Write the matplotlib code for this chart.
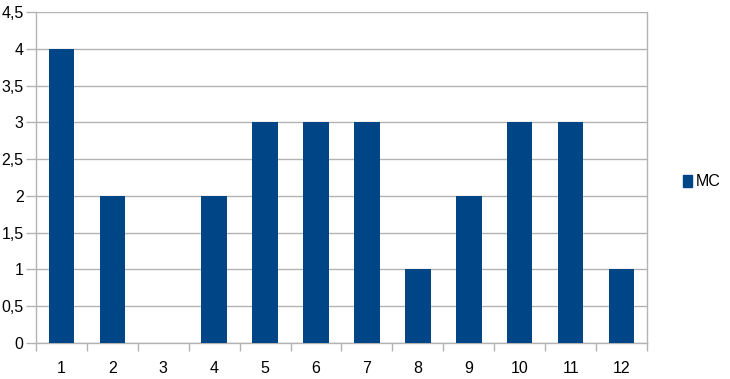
import matplotlib.pyplot as plt
from matplotlib.ticker import FuncFormatter, MultipleLocator
from matplotlib.patches import Patch

# 数据
categories = ['1', '2', '3', '4', '5', '6', '7', '8', '9', '10', '11', '12']
mc_values = [4, 2, 0, 2, 3, 3, 3, 1, 2, 3, 3, 1]

bar_color = '#004586'
grid_color = '#b3b3b3'

plt.rcParams['font.family'] = ['Liberation Sans', 'DejaVu Sans']

fig = plt.figure(figsize=(7.3, 3.79), dpi=100)
ax = fig.add_axes([36 / 730, 1 - 343 / 379, (647 - 36) / 730, (343 - 12) / 379])

x = list(range(len(categories)))
ax.bar(x, mc_values, width=0.5, color=bar_color, zorder=3)

ax.set_xlim(-0.5, len(categories) - 0.5)
ax.set_ylim(0, 4.5)
ax.yaxis.set_major_locator(MultipleLocator(0.5))
ax.yaxis.set_major_formatter(FuncFormatter(lambda v, p: f'{v:g}'.replace('.', ',')))
ax.grid(axis='y', color=grid_color, linewidth=1, zorder=0)

# 类别标签在中间，刻度线在边界
ax.set_xticks(x)
ax.set_xticklabels(categories)
ax.tick_params(axis='x', which='major', length=0, pad=13, labelsize=11.5)
ax.set_xticks([i - 0.5 for i in range(len(categories) + 1)], minor=True)
ax.tick_params(axis='x', which='minor', length=6, color=grid_color, width=1)
ax.tick_params(axis='y', length=7, color=grid_color, width=1, labelsize=11.5, pad=2)

for side in ['top', 'right', 'left', 'bottom']:
    ax.spines[side].set_color(grid_color)
    ax.spines[side].set_linewidth(1)
ax.spines['top'].set_visible(False)

fig.legend(handles=[Patch(color=bar_color, label='MC')], loc='center left',
           bbox_to_anchor=(683 / 730, 1 - 182 / 379), frameon=False,
           borderpad=0, borderaxespad=0,
           handlelength=0.55, handleheight=0.7, handletextpad=0.25, fontsize=11.5)

fig.savefig('out.png', dpi=100)
